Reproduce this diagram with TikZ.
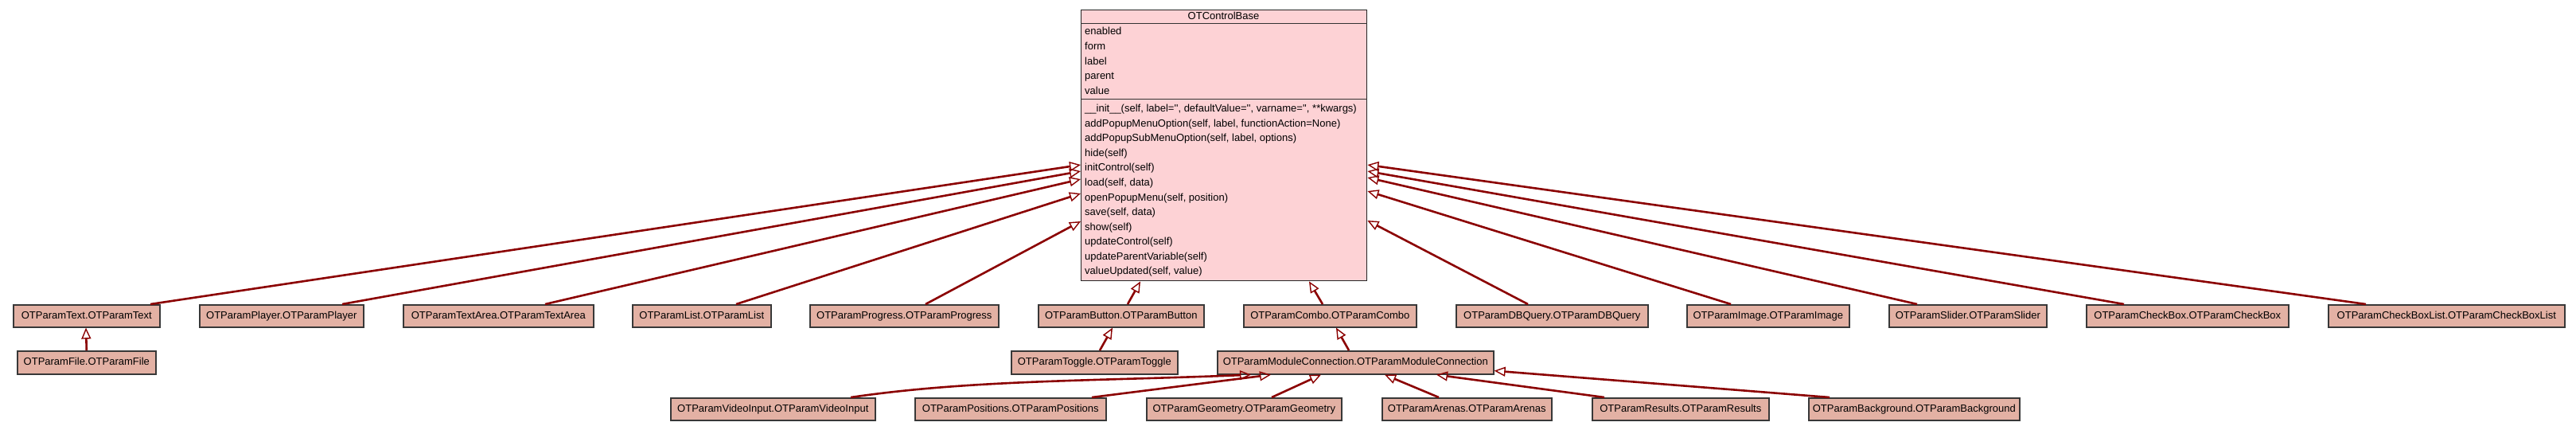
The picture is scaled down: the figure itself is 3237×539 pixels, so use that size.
\documentclass[tikz,border=0pt]{standalone}
\usepackage{fontspec}
\newfontfamily\umlfont{Liberation Sans}
\usetikzlibrary{arrows.meta,calc}
\definecolor{basefill}{HTML}{FDD2D5}
\definecolor{childfill}{HTML}{E3B1A4}
\definecolor{edgecol}{HTML}{8B0000}
\definecolor{boxline}{HTML}{383838}
\begin{document}
\begin{tikzpicture}[x=1pt,y=-1pt,
  font=\umlfont\fontsize{13}{15}\selectfont,
  cls/.style={draw=boxline, line width=1.6pt, fill=childfill, minimum height=28pt,
    inner sep=0pt, anchor=north west, text height=9.4pt, text depth=2.6pt},
  mem/.style={anchor=base west, inner sep=0pt},
  inh/.style={draw=edgecol, line width=2.6pt,
    -{Triangle[open, length=14pt, width=12pt, line width=1.4pt]}}]
\useasboundingbox[fill=white] (0,0) rectangle (3237,539);

% base class
\node[draw=black!85, line width=1.4pt, fill=basefill, minimum width=359pt, minimum height=340pt,
  anchor=north west, inner sep=0pt] (base) at (1358,12) {};
\draw[black!80, line width=1pt] ($(base.north west)+(0,17)$) -- ($(base.north east)+(0,17)$);
\draw[black!80, line width=1pt] ($(base.north west)+(0,112)$) -- ($(base.north east)+(0,112)$);
\node[anchor=base, inner sep=0pt] (title) at (1537.5,24.7) {OTControlBase};
\node[mem] (a1) at (1363,43.7) {enabled};
\node[mem] (a2) at (1363,62.4) {form};
\node[mem] (a3) at (1363,81.1) {label};
\node[mem] (a4) at (1363,99.8) {parent};
\node[mem] (a5) at (1363,118.5) {value};
\node[mem] (m1) at (1363,140.7) {\_\_init\_\_(self, label='', defaultValue='', varname='', **kwargs)};
\node[mem] (m2) at (1363,159.25) {addPopupMenuOption(self, label, functionAction=None)};
\node[mem] (m3) at (1363,177.8) {addPopupSubMenuOption(self, label, options)};
\node[mem] (m4) at (1363,196.35) {hide(self)};
\node[mem] (m5) at (1363,214.9) {initControl(self)};
\node[mem] (m6) at (1363,233.45) {load(self, data)};
\node[mem] (m7) at (1363,252.0) {openPopupMenu(self, position)};
\node[mem] (m8) at (1363,270.55) {save(self, data)};
\node[mem] (m9) at (1363,289.1) {show(self)};
\node[mem] (m10) at (1363,307.65) {updateControl(self)};
\node[mem] (m11) at (1363,326.2) {updateParentVariable(self)};
\node[mem] (m12) at (1363,344.75) {valueUpdated(self, value)};

% row 1
\node[cls, minimum width=184pt] (text) at (16,382) {OTParamText.OTParamText};
\node[cls, minimum width=206pt] (player) at (250,382) {OTParamPlayer.OTParamPlayer};
\node[cls, minimum width=239pt] (textarea) at (506,382) {OTParamTextArea.OTParamTextArea};
\node[cls, minimum width=174pt] (list) at (794,382) {OTParamList.OTParamList};
\node[cls, minimum width=237pt] (progress) at (1017,382) {OTParamProgress.OTParamProgress};
\node[cls, minimum width=208pt] (button) at (1304,382) {OTParamButton.OTParamButton};
\node[cls, minimum width=217pt] (combo) at (1562,382) {OTParamCombo.OTParamCombo};
\node[cls, minimum width=241pt] (dbquery) at (1829,382) {OTParamDBQuery.OTParamDBQuery};
\node[cls, minimum width=204pt] (image) at (2119,382) {OTParamImage.OTParamImage};
\node[cls, minimum width=198pt] (slider) at (2373,382) {OTParamSlider.OTParamSlider};
\node[cls, minimum width=254pt] (checkbox) at (2621,382) {OTParamCheckBox.OTParamCheckBox};
\node[cls, minimum width=297pt] (checkboxlist) at (2925,382) {OTParamCheckBoxList.OTParamCheckBoxList};

% row 2
\node[cls, minimum width=174pt, minimum height=29pt] (file) at (21,440) {OTParamFile.OTParamFile};
\node[cls, minimum width=209pt, minimum height=29pt] (toggle) at (1270,440) {OTParamToggle.OTParamToggle};
\node[cls, minimum width=347pt, minimum height=29pt] (modconn) at (1529,440) {OTParamModuleConnection.OTParamModuleConnection};

% row 3
\node[cls, minimum width=257pt] (videoinput) at (842,499) {OTParamVideoInput.OTParamVideoInput};
\node[cls, minimum width=240pt] (positions) at (1149,499) {OTParamPositions.OTParamPositions};
\node[cls, minimum width=245pt] (geometry) at (1440,499) {OTParamGeometry.OTParamGeometry};
\node[cls, minimum width=213pt] (arenas) at (1736,499) {OTParamArenas.OTParamArenas};
\node[cls, minimum width=222pt] (results) at (2000,499) {OTParamResults.OTParamResults};
\node[cls, minimum width=265pt] (background) at (2272,499) {OTParamBackground.OTParamBackground};

% inheritance edges to base (left side)
\draw[inh] ($(text.north west)+(173,0)$) -- ($(base.north west)+(0,195)$);
\draw[inh] ($(player.north west)+(180,0)$) -- ($(base.north west)+(0,203)$);
\draw[inh] ($(textarea.north west)+(179,0)$) -- ($(base.north west)+(0,213)$);
\draw[inh] ($(list.north west)+(131,0)$) -- ($(base.north west)+(0,231)$);
\draw[inh] ($(progress.north west)+(146,0)$) -- ($(base.north west)+(0,266)$);
% bottom
\draw[inh] ($(button.north west)+(113,0)$) -- ($(base.south west)+(75,0)$);
\draw[inh] ($(combo.north west)+(100,0)$) -- ($(base.south west)+(287,0)$);
% right side
\draw[inh] ($(dbquery.north west)+(91,0)$) -- ($(base.north east)+(0,265)$);
\draw[inh] ($(image.north west)+(56,0)$) -- ($(base.north east)+(0,228)$);
\draw[inh] ($(slider.north west)+(36,0)$) -- ($(base.north east)+(0,211)$);
\draw[inh] ($(checkbox.north west)+(48,0)$) -- ($(base.north east)+(0,203)$);
\draw[inh] ($(checkboxlist.north west)+(48,0)$) -- ($(base.north east)+(0,195)$);

% row 2 edges
\draw[inh] (file.north) -- ($(text.south west)+(92,0)$);
\draw[inh] ($(toggle.north west)+(112,0)$) -- ($(button.south west)+(94,0)$);
\draw[inh] ($(modconn.north west)+(166,0)$) -- ($(combo.south west)+(117,0)$);

% row 3 edges
\draw[inh] ($(videoinput.north west)+(227,0)$) .. controls +(150,-22) and +(-200,8) .. ($(modconn.south west)+(43,0)$);
\draw[inh] ($(positions.north west)+(223,0)$) -- ($(modconn.south west)+(68,0)$);
\draw[inh] ($(geometry.north west)+(158,0)$) -- ($(modconn.south west)+(131,0)$);
\draw[inh] ($(arenas.north west)+(72,0)$) -- ($(modconn.south west)+(211,0)$);
\draw[inh] ($(results.north west)+(16,0)$) -- ($(modconn.south west)+(276,0)$);
\draw[inh] ($(background.north west)+(27,0)$) -- ($(modconn.south east)+(0,-5)$);
\end{tikzpicture}
\end{document}
